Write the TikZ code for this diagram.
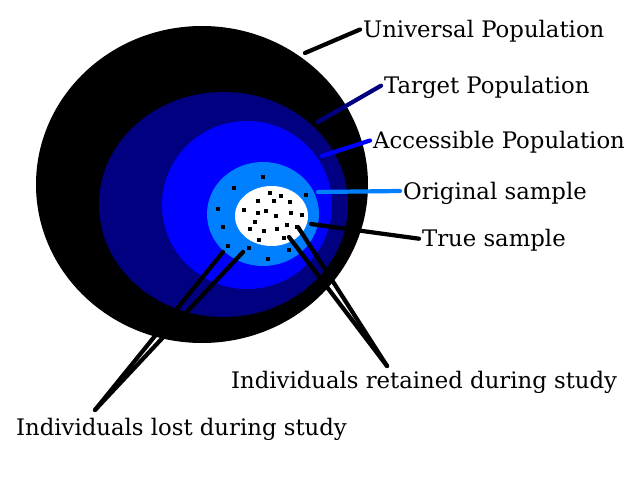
\documentclass[tikz,border=0pt]{standalone}
\usepackage{fontspec}
\setmainfont{DejaVu Serif}
\definecolor{navypop}{HTML}{000080}
\definecolor{bluepop}{HTML}{0000FF}
\definecolor{skypop}{HTML}{0080FF}

\begin{document}
\begin{tikzpicture}[x=0.025cm, y=-0.025cm,
	lead/.style={line width=3pt, line cap=round},
	lbl/.style={anchor=west, inner xsep=2pt, inner ysep=0pt, text height=11.7pt, text depth=0pt, font=\fontsize{16.2}{19}\selectfont}]
	\useasboundingbox (0,0) rectangle (640,480);
	\fill[black] (202,184.5) ellipse (166 and 158.5);
	\fill[navypop] (223.5,204.5) ellipse (124.5 and 112.5);
	\fill[bluepop] (247,205) ellipse (85 and 84);
	\fill[skypop] (263,214) ellipse (56 and 52);
	\fill[white] (271.5,216) ellipse (36.5 and 30);
	\foreach \p in {(263,177),(234,188),(270,193),(258,201),(281,196),(274,201),(290,202),(306,195),
		(218,209),(244,210),(258,213),(266,211),(276,216),(291,213),(302,215),(255,222),(223,227),
		(250,229),(264,231),(277,229),(287,225),(297,227),(228,246),(259,240),(284,238),(249,248),
		(289,250),(268,259)}
		\fill \p ++(-2,-2) rectangle ++(4,4);
	\node[lbl] (univ) at (360,29.5) {Universal Population};
	\node[lbl] (target) at (381,85.7) {Target Population};
	\node[lbl] (access) at (370,140.5) {Accessible Population};
	\node[lbl] (orig) at (400,191) {Original sample};
	\node[lbl] (true) at (419,238.7) {True sample};
	\node[lbl] (kept) at (228,380.5) {Individuals retained during study};
	\node[lbl] (lost) at (13,427) {Individuals lost during study};
	\coordinate (univtip) at (305,53);
	\coordinate (targettip) at (318,122);
	\coordinate (accesstip) at (322,156);
	\coordinate (origtip) at (318,192);
	\coordinate (truetip) at (311,224);
	\coordinate (kepta) at (298,227);
	\coordinate (keptb) at (289,237);
	\coordinate (keptend) at (387,366);
	\coordinate (losta) at (223,252);
	\coordinate (lostb) at (243,252);
	\coordinate (lostend) at (95,410);
	\draw[lead, black] (univtip) -- (univ.west);
	\draw[lead, navypop] (targettip) -- (target.west);
	\draw[lead, bluepop] (accesstip) -- (access.west);
	\draw[lead, skypop] (origtip) -- (orig.west);
	\draw[lead, black] (truetip) -- (true.west);
	\draw[lead] (kepta) -- (keptend);
	\draw[lead] (keptb) -- (keptend);
	\draw[lead] (losta) -- (lostend);
	\draw[lead] (lostb) -- (lostend);
\end{tikzpicture}
\end{document}
